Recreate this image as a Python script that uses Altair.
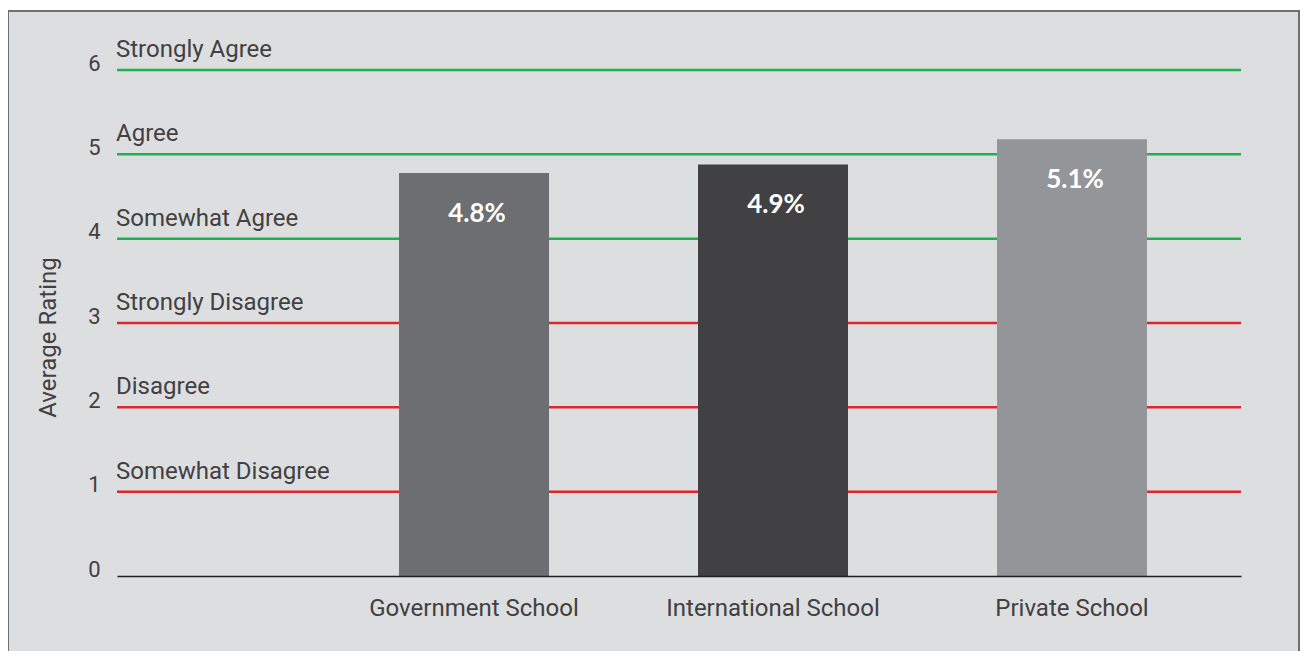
import altair as alt
import pandas as pd

# ---- data ----
schools = ["Government School", "International School", "Private School"]
ratings = [4.78, 4.88, 5.18]
rating_labels = ["4.8%", "4.9%", "5.1%"]
bar_colors = ["#6d6e71", "#414042", "#939598"]

levels = [1, 2, 3, 4, 5, 6]
level_names = ["Somewhat Disagree", "Disagree", "Strongly Disagree",
               "Somewhat Agree", "Agree", "Strongly Agree"]
level_groups = ["disagree", "disagree", "disagree", "agree", "agree", "agree"]

bars_df = pd.DataFrame({"school": schools, "rating": ratings,
                        "label": rating_labels})
levels_df = pd.DataFrame({"level": levels, "name": level_names,
                          "group": level_groups})

W, H = 1124, 506
TEXT = "#414042"
FONT = "Roboto"

x_scale = alt.Scale(domain=schools, paddingInner=0.4983,
                    paddingOuter=0.6288, align=0.75)
y_scale = alt.Scale(domain=[0, 6], nice=False)

x_enc = alt.X("school:N", scale=x_scale, sort=schools,
              axis=alt.Axis(title=None, labelAngle=0, ticks=False,
                            labelFontSize=24, labelFont=FONT,
                            labelColor=TEXT, labelPadding=20,
                            labelLimit=500,
                            domainColor="#231f20", domainWidth=1.5,
                            zindex=1))
y_axis = alt.Axis(title="Average Rating", values=[0, 1, 2, 3, 4, 5, 6],
                  format="d",
                  grid=False, domain=False, ticks=False,
                  labelFontSize=22, labelFont=FONT, labelColor=TEXT,
                  labelPadding=17, labelOffset=-7,
                  titleFontSize=24, titleFont=FONT, titleColor=TEXT,
                  titleFontWeight="normal", titleX=-62, titleY=267,
                  titleBaseline="alphabetic", titleAngle=-90, zindex=1)

frame = alt.Chart(pd.DataFrame({"a": [0]})).mark_rect(
    fill="#dddee0", stroke="#707070", strokeWidth=2
).encode(x=alt.value(-109), x2=alt.value(1182),
         y=alt.value(-59), y2=alt.value(620))

rules = alt.Chart(levels_df).mark_rule(strokeWidth=2.5).encode(
    x=alt.value(0), x2=alt.value(W),
    y=alt.Y("level:Q", scale=y_scale, axis=y_axis),
    color=alt.Color("group:N",
                    scale=alt.Scale(domain=["agree", "disagree"],
                                    range=["#1fb14f", "#e0252e"]),
                    legend=None),
)

bars = alt.Chart(bars_df).mark_bar().encode(
    x=x_enc,
    y=alt.Y("rating:Q", scale=y_scale),
    fill=alt.Fill("school:N",
                  scale=alt.Scale(domain=schools, range=bar_colors),
                  legend=None),
)

level_text = alt.Chart(levels_df).mark_text(
    align="left", baseline="alphabetic", dx=-1, dy=-13,
    fontSize=24, font=FONT, color=TEXT
).encode(x=alt.value(0), y=alt.Y("level:Q", scale=y_scale), text="name:N")

bar_text = alt.Chart(bars_df).mark_text(
    align="center", baseline="alphabetic", dy=49, dx=3,
    fontSize=26, font="Lato", fontWeight="bold", color="white"
).encode(x=alt.X("school:N", scale=x_scale, sort=schools),
         y=alt.Y("rating:Q", scale=y_scale), text="label:N")

chart = alt.layer(frame, rules, bars, level_text, bar_text).resolve_scale(
    color="independent", fill="independent"
).properties(
    width=W, height=H,
    autosize=alt.AutoSizeParams(type="none"),
    padding={"left": 109, "top": 62, "right": 59, "bottom": 75},
    background="white",
).configure_view(stroke=None)

chart.save("out.html", embed_options={"renderer": "svg", "actions": False})
